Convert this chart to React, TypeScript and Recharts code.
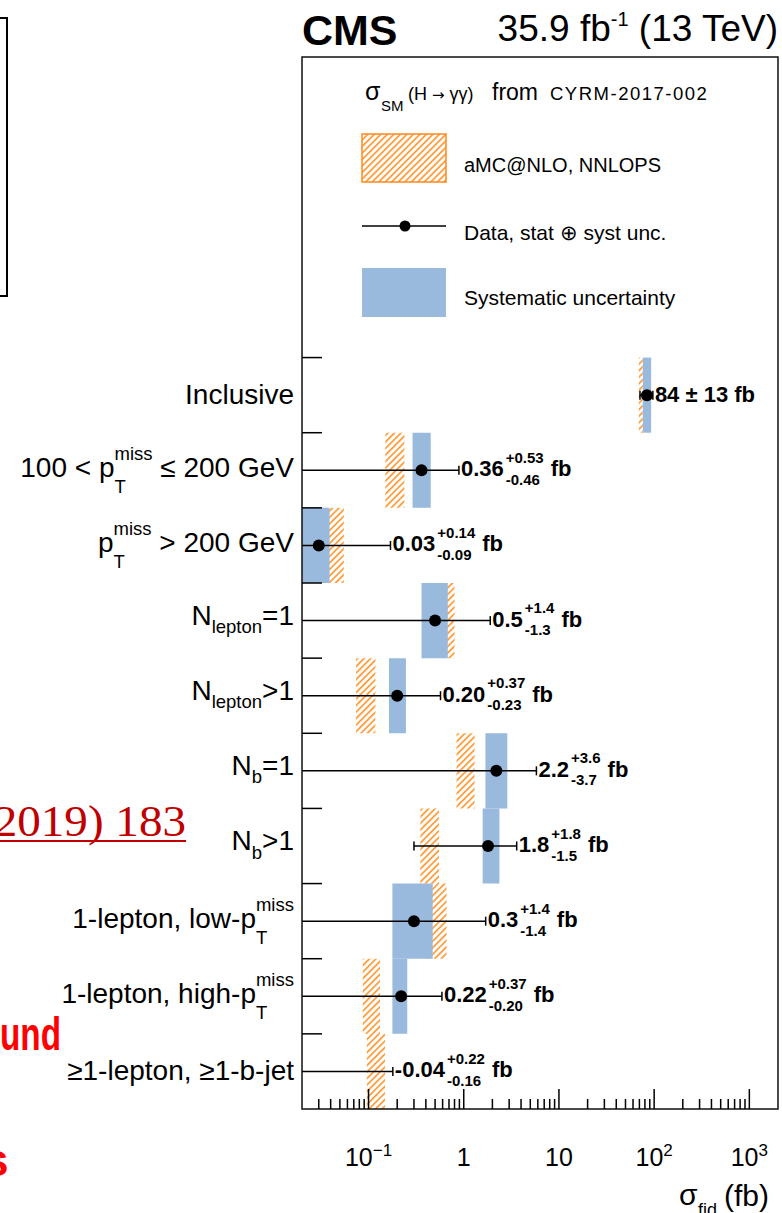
import React from 'react';
import { ScatterChart, Scatter, XAxis, YAxis, ReferenceArea, ReferenceLine } from 'recharts';

const SANS = '"Liberation Sans", Arial, Helvetica, sans-serif';
const SERIF = '"Liberation Serif", "Times New Roman", serif';

const ORANGE = '#ff9933';
const ORANGE_EDGE = '#ff8a1f';
const BLUE = '#99badd';

// plot range in fb
const X_MIN = 0.02;
const X_MAX = 2000;
// empty rows kept above the categories for the legend
const LEGEND_ROWS = 4;

type Part = [string, 'n' | 'sub' | 'subsup', string?];

const categoryLabels: Part[][] = [
  [['Inclusive', 'n']],
  [['100 < p', 'n'], ['T', 'subsup', 'miss'], [' ≤ 200 GeV', 'n']],
  [['p', 'n'], ['T', 'subsup', 'miss'], [' > 200 GeV', 'n']],
  [['N', 'n'], ['lepton', 'sub'], ['=1', 'n']],
  [['N', 'n'], ['lepton', 'sub'], ['>1', 'n']],
  [['N', 'n'], ['b', 'sub'], ['=1', 'n']],
  [['N', 'n'], ['b', 'sub'], ['>1', 'n']],
  [['1-lepton, low-p', 'n'], ['T', 'subsup', 'miss']],
  [['1-lepton, high-p', 'n'], ['T', 'subsup', 'miss']],
  [['≥1-lepton, ≥1-b-jet', 'n']],
];

// measured fiducial cross sections with total uncertainty (fb)
const sigma = [84, 0.36, 0.03, 0.5, 0.2, 2.2, 1.8, 0.3, 0.22, -0.04];
const errUp = [13, 0.53, 0.14, 1.4, 0.37, 3.6, 1.8, 1.4, 0.37, 0.22];
const errDown = [13, 0.46, 0.09, 1.3, 0.23, 3.7, 1.5, 1.4, 0.2, 0.16];
const decimals = [0, 2, 2, 1, 2, 1, 1, 1, 2, 2];
// "±" form for the inclusive number, split +/- for the rest
const plusMinusForm = [true, false, false, false, false, false, false, false, false, false];

// systematic component
const systLow: (number | null)[] = [76, 0.29, 0.012, 0.36, 0.164, 1.69, 1.58, 0.178, 0.178, null];
const systHigh: (number | null)[] = [93, 0.45, 0.039, 0.68, 0.247, 2.87, 2.37, 0.472, 0.255, null];

// aMC@NLO, NNLOPS prediction
const theoryLow = [69, 0.15, 0.035, 0.6, 0.074, 0.84, 0.35, 0.4, 0.087, 0.096];
const theoryHigh = [76, 0.238, 0.055, 0.8, 0.118, 1.3, 0.55, 0.66, 0.132, 0.149];

const xMajorTicks = [0.1, 1, 10, 100, 1000];
const xMajorLabels: [string, string][] = [['10', '−1'], ['1', ''], ['10', ''], ['10', '2'], ['10', '3']];
const xMinorSteps = [2, 3, 4, 5, 6, 7, 8, 9];

const xTicks = [0.01, ...xMajorTicks.slice(0, -1)]
  .flatMap((d) => xMinorSteps.map((m) => d * m))
  .filter((v) => v > 0.025)
  .concat(xMajorTicks)
  .sort((a, b) => a - b);

const nRows = categoryLabels.length;
const Y_MAX = nRows + LEGEND_ROWS;
const rowY = categoryLabels.map((_, i) => nRows - 0.5 - i);
const rowEdges = categoryLabels.map((_, i) => i + 1);

const points = sigma
  .map((v, i) => ({ x: v, y: rowY[i] }))
  .filter((p) => p.x > 0);

const BOLD_W: Record<string, number> = { '.': 0.278, '+': 0.584, '-': 0.333, ' ': 0.278 };
const boldWidth = (s: string, size: number) =>
  [...s].reduce((a, c) => a + (BOLD_W[c] ?? 0.556), 0) * size;

function CategoryTick(props: any) {
  const { x, y, payload } = props;
  const i = rowY.indexOf(payload.value);
  if (i < 0) return null;
  const parts = categoryLabels[i];
  const hasSubSup = parts.some((p) => p[1] === 'subsup');
  const hasSub = parts.some((p) => p[1] === 'sub');
  const base = y + (hasSubSup ? 6.5 : hasSub ? 4 : 8.5);
  let shift = 0;
  const spans: React.ReactNode[] = [];
  parts.forEach(([t, kind, extra], k) => {
    if (kind === 'n') {
      spans.push(<tspan key={k} dy={-shift} fontSize={28}>{t}</tspan>);
      shift = 0;
    } else if (kind === 'sub') {
      spans.push(<tspan key={k} dy={8.5 - shift} fontSize={18.5}>{t}</tspan>);
      shift = 8.5;
    } else {
      spans.push(<tspan key={k} dy={16.5 - shift} fontSize={18.5}>{t}</tspan>);
      spans.push(<tspan key={k + 's'} dx={-0.611 * 18.5 * t.length} dy={-33} fontSize={18.5}>{extra}</tspan>);
      shift = -16.5;
    }
  });
  return (
    <text x={x} y={base} textAnchor="end" fontFamily={SANS} fill="#000">
      {spans}
    </text>
  );
}

function XTick(props: any) {
  const { x, y, payload } = props;
  const k = xMajorTicks.indexOf(payload.value);
  const len = k >= 0 ? 20 : 10;
  return (
    <g>
      <line x1={x} x2={x} y1={y} y2={y - len} stroke="#000" strokeWidth={1.5} />
      {k >= 0 && (
        <text x={x} y={y + 57} textAnchor="middle" fontSize={25} fontFamily={SANS} fill="#000">
          {xMajorLabels[k][0]}
          {xMajorLabels[k][1] && <tspan dy={-10} fontSize={17}>{xMajorLabels[k][1]}</tspan>}
        </text>
      )}
    </g>
  );
}

function ValueLabel({ x, y, i }: { x: number; y: number; i: number }) {
  const d = decimals[i];
  const main = sigma[i].toFixed(d);
  const up = errUp[i].toFixed(d);
  const dn = errDown[i].toFixed(d);
  if (plusMinusForm[i]) {
    return (
      <text x={x} y={y + 7} fontSize={22} fontWeight={700} fontFamily={SANS} fill="#000">
        {`${main} ± ${up} fb`}
      </text>
    );
  }
  const sup = '+' + up;
  const sub = '-' + dn;
  const xs = x + boldWidth(main, 22) + 2;
  const xf = xs + Math.max(boldWidth(sup, 15), boldWidth(sub, 15)) + 7;
  return (
    <g fontFamily={SANS} fontWeight={700} fill="#000">
      <text x={x} y={y + 6} fontSize={22}>{main}</text>
      <text x={xs} y={y - 7.5} fontSize={15}>{sup}</text>
      <text x={xs} y={y + 14.5} fontSize={15}>{sub}</text>
      <text x={xf} y={y + 6} fontSize={22}>fb</text>
    </g>
  );
}

// total uncertainty bar with end caps and the value printed after it
const errorShape = (i: number, capLow: boolean) => (p: any) => {
  const xl = Math.min(p.x1, p.x2);
  const xr = Math.max(p.x1, p.x2);
  const y = p.y1;
  return (
    <g>
      <line x1={xl} x2={xr} y1={y} y2={y} stroke="#000" strokeWidth={1.5} />
      {capLow && <line x1={xl} x2={xl} y1={y - 4.5} y2={y + 4.5} stroke="#000" strokeWidth={1.5} />}
      <line x1={xr} x2={xr} y1={y - 4.5} y2={y + 4.5} stroke="#000" strokeWidth={1.5} />
      <ValueLabel x={xr + 2} y={y} i={i} />
    </g>
  );
};

const edgeTick = (p: any) => {
  const x0 = Math.min(p.x1, p.x2);
  return <line x1={x0} x2={x0 + 20} y1={p.y1} y2={p.y1} stroke="#000" strokeWidth={1.5} />;
};

function Overlay() {
  return (
    <svg width={782} height={1213} style={{ position: 'absolute', left: 0, top: 0, pointerEvents: 'none' }}>
      <defs>
        <pattern id="hatch" width="4.6" height="4.6" patternUnits="userSpaceOnUse" patternTransform="rotate(45)">
          <rect width="1.7" height="4.6" fill={ORANGE} />
        </pattern>
      </defs>

      {/* slide leftovers */}
      <polyline points="0,18 7,18 7,296 0,296" fill="none" stroke="#000" strokeWidth={2} />
      <text x={-22} y={836} fontFamily={SERIF} fontSize={44} fill="#c00000" textLength={208} lengthAdjust="spacingAndGlyphs">
        (2019) 183
      </text>
      <line x1={0} x2={186} y1={841} y2={841} stroke="#c00000" strokeWidth={2} />
      <text x={0} y={1050} fontFamily={SANS} fontWeight={700} fontSize={46} fill="#ff0000" textLength={61} lengthAdjust="spacingAndGlyphs">
        und
      </text>
      <text x={-17} y={1176} fontFamily={SANS} fontWeight={700} fontSize={46} fill="#ff0000">s</text>

      {/* header */}
      <text x={302} y={45} fontFamily={SANS} fontWeight={700} fontSize={43} fill="#000">CMS</text>
      <text x={778} y={41} textAnchor="end" fontFamily={SANS} fontSize={37} fill="#000">
        35.9 fb<tspan dy={-15} fontSize={20}>-1</tspan>
        <tspan dy={15}> (13 TeV)</tspan>
      </text>

      {/* legend */}
      <g fontFamily={SANS} fill="#000">
        <text x={365} y={100} fontSize={25}>σ</text>
        <text x={381} y={110.7} fontSize={15}>SM</text>
        <text x={408} y={100} fontSize={18}>
          (H <tspan fontFamily='"DejaVu Sans", sans-serif' fontSize={15} fill="#000">→</tspan> γγ)
        </text>
        <text x={492} y={100} fontSize={23}>from</text>
        <text x={550} y={100} fontSize={18.5} letterSpacing={1.5}>CYRM-2017-002</text>

        <rect x={362} y={134} width={84} height={48} fill="url(#hatch)" stroke={ORANGE_EDGE} strokeWidth={1.5} />
        <text x={464} y={172} fontSize={20}>aMC@NLO, NNLOPS</text>

        <line x1={362} x2={446} y1={226} y2={226} stroke="#000" strokeWidth={1.5} />
        <circle cx={405} cy={226} r={5.5} fill="#000" />
        <text x={464} y={240} fontSize={21}>Data, stat ⊕ syst unc.</text>

        <rect x={362} y={268} width={84} height={49} fill={BLUE} />
        <text x={464} y={305} fontSize={21}>Systematic uncertainty</text>
      </g>

      {/* x axis title */}
      <g fontFamily={SANS} fill="#000">
        <text x={679} y={1205} fontSize={30}>σ</text>
        <text x={698} y={1216} fontSize={18}>fid</text>
        <text x={724} y={1206} fontSize={30}>(fb)</text>
      </g>
    </svg>
  );
}

export default function App() {
  return (
    <div style={{ position: 'absolute', left: 0, top: 0, width: 782, height: 1213, background: '#fff', overflow: 'hidden' }}>
      <div style={{ position: 'absolute', left: 0, top: 0 }}>
        <ScatterChart width={782} height={1213} margin={{ top: 57, right: 4, bottom: 0, left: 0 }}>
          <XAxis
            dataKey="x"
            type="number"
            scale="log"
            domain={[X_MIN, X_MAX]}
            allowDataOverflow
            ticks={xTicks}
            interval={0}
            tick={<XTick />}
            tickLine={false}
            axisLine={false}
            tickSize={0}
            tickMargin={0}
            height={104}
          />
          <YAxis
            dataKey="y"
            type="number"
            domain={[0, Y_MAX]}
            allowDataOverflow
            ticks={rowY}
            interval={0}
            tick={<CategoryTick />}
            tickLine={false}
            axisLine={false}
            tickSize={0}
            tickMargin={8}
            width={302}
          />

          {theoryLow.map((lo, i) => (
            <ReferenceArea
              key={'th' + i}
              x1={lo}
              x2={theoryHigh[i]}
              y1={rowY[i] - 0.5}
              y2={rowY[i] + 0.5}
              fill="url(#hatch)"
              fillOpacity={1}
              stroke="none"
              ifOverflow="hidden"
            />
          ))}
          {systLow.map((lo, i) =>
            lo === null ? null : (
              <ReferenceArea
                key={'sy' + i}
                x1={lo}
                x2={systHigh[i] as number}
                y1={rowY[i] - 0.5}
                y2={rowY[i] + 0.5}
                fill={BLUE}
                fillOpacity={1}
                stroke="none"
                ifOverflow="hidden"
              />
            )
          )}

          {rowEdges.map((e) => (
            <ReferenceLine key={'edge' + e} y={e} shape={edgeTick} ifOverflow="visible" />
          ))}

          {sigma.map((v, i) => {
            const lo = v - errDown[i];
            const hi = v + errUp[i];
            const capLow = lo > X_MIN;
            return (
              <ReferenceLine
                key={'err' + i}
                segment={[
                  { x: capLow ? lo : X_MIN, y: rowY[i] },
                  { x: hi, y: rowY[i] },
                ]}
                shape={errorShape(i, capLow)}
                ifOverflow="visible"
              />
            );
          })}

          <Scatter
            data={points}
            isAnimationActive={false}
            shape={(p: any) => <circle cx={p.cx} cy={p.cy} r={6} fill="#000" />}
          />

          <ReferenceArea
            x1={X_MIN}
            x2={X_MAX}
            y1={0}
            y2={Y_MAX}
            fill="none"
            stroke="#111"
            strokeWidth={1.5}
            ifOverflow="visible"
          />
        </ScatterChart>
      </div>
      <Overlay />
    </div>
  );
}
